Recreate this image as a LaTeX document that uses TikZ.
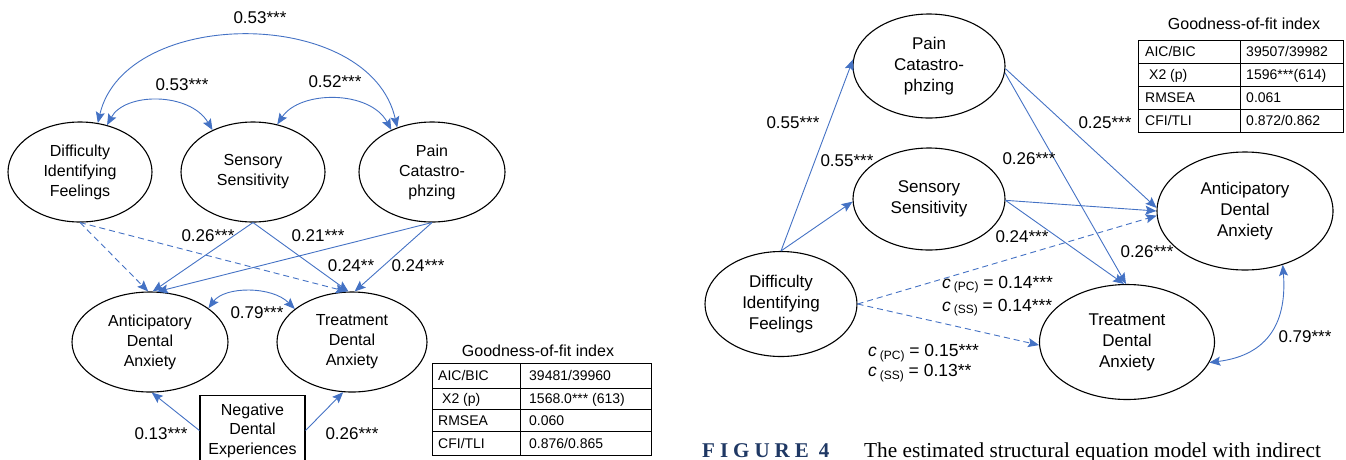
\documentclass[tikz,border=0pt]{standalone}
\usepackage{fontspec}
\setmainfont{Liberation Sans}
\newfontfamily\serifcap{Liberation Serif}
\usetikzlibrary{shapes.geometric,arrows.meta}
\definecolor{lnblue}{HTML}{4472C4}
\definecolor{capblue}{HTML}{1F3864}
\newcommand{\cc}[2]{{\itshape c}\,\raisebox{-2.5pt}{\fontsize{12}{12}\selectfont (#1)} = #2}
\begin{document}
\begin{tikzpicture}[x=1pt,y=-1pt,
  ell/.style={draw=black, line width=1.1pt, ellipse, inner sep=0pt, align=center, font=\fontsize{16}{20}\selectfont},
  ellb/.style={ell, font=\fontsize{17}{21}\selectfont},
  link/.style={draw=lnblue, line width=0.9pt, -{Stealth[length=11pt,width=9pt,inset=2pt]}},
  dlink/.style={link, dash pattern=on 6pt off 4pt},
  both/.style={link, {Stealth[length=11pt,width=9pt,inset=2pt]}-{Stealth[length=11pt,width=9pt,inset=2pt]}},
  coef/.style={font=\fontsize{17}{20}\selectfont, inner sep=0pt},
  cform/.style={font=\fontsize{17.5}{23}\selectfont, inner sep=0pt, align=left, anchor=west},
  tab/.style={draw=black, line width=0.8pt},
  tabtxt/.style={font=\fontsize{14}{16}\selectfont, inner sep=0pt, anchor=base west},
  ttl/.style={font=\fontsize{16}{18}\selectfont, inner sep=0pt}
]
\useasboundingbox (0,0) rectangle (1346,459);

% ================= LEFT DIAGRAM =================
\node[ell, minimum width=144pt, minimum height=100pt] (dif1) at (80,172) {Difficulty\\Identifying\\Feelings};
\node[ell, minimum width=144pt, minimum height=100pt] (ss1) at (253,172) {Sensory\\Sensitivity};
\node[ell, minimum width=146pt, minimum height=100pt] (pc1) at (432,172) {Pain\\Catastro-\\phzing};
\node[ell, minimum width=156pt, minimum height=100pt] (ada1) at (150,342) {Anticipatory\\Dental\\Anxiety};
\node[ell, minimum width=150pt, minimum height=100pt] (tda1) at (352,342) {Treatment\\Dental\\Anxiety};
\node[draw=black, line width=1.1pt, anchor=north, minimum width=105pt, inner xsep=0pt, inner ysep=8pt,
      align=center, font=\fontsize{16}{19.5}\selectfont] (nde) at (252.5,395) {Negative\\Dental\\Experiences};

% covariances
\draw[both] (dif1.70) .. controls (125,6) and (370,6) .. (pc1.128);
\draw[both] (dif1.60) .. controls (125,92) and (190,92) .. (ss1.134);
\draw[both] (ss1.63) .. controls (300,90) and (370,90) .. (pc1.134);
\draw[both] (ada1.30) .. controls (225,286) and (272,286) .. (tda1.150);

% paths
\draw[dlink] (dif1.south) -- (ada1.92);
\draw[dlink] (dif1.south) -- (tda1.96);
\draw[link] (ss1.south) -- (ada1.87);
\draw[link] (ss1.south) -- (tda1.94);
\draw[link] (pc1.south) -- (ada1.82);
\draw[link] (pc1.south) -- (tda1.87);
\draw[link] (nde.west) -- (ada1.-88);
\draw[link] (nde.east) -- (tda1.-100);

% coefficients
\node[coef] (a1) at (260,18) {0.53***};
\node[coef] (a2) at (182,85) {0.53***};
\node[coef] (a3) at (335,82) {0.52***};
\node[coef] (a4) at (208,236) {0.26***};
\node[coef] (a5) at (318,236) {0.21***};
\node[coef] (a6) at (351,266) {0.24**};
\node[coef] (a7) at (418,266) {0.24***};
\node[coef] (a8) at (257,313) {0.79***};
\node[coef] (a9) at (161,434) {0.13***};
\node[coef] (a10) at (352,434) {0.26***};

% fit table (left)
\node[ttl] (t1) at (538,351) {Goodness-of-fit index};
\draw[tab] (432,363) rectangle (651,455);
\draw[tab] (520,363) -- (520,455);
\draw[tab] (432,388) -- (651,388);
\draw[tab] (432,409) -- (651,409);
\draw[tab] (432,431) -- (651,431);
\node[tabtxt] (t1a) at (438,380.5) {AIC/BIC};
\node[tabtxt] (t1b) at (529,380.5) {39481/39960};
\node[tabtxt] (t1c) at (442,403.5) {X2 (p)};
\node[tabtxt] (t1d) at (529,403.5) {1568.0*** (613)};
\node[tabtxt] (t1e) at (438,425) {RMSEA};
\node[tabtxt] (t1f) at (529,425) {0.060};
\node[tabtxt] (t1g) at (438,448) {CFI/TLI};
\node[tabtxt] (t1h) at (529,448) {0.876/0.865};

% ================= RIGHT DIAGRAM =================
\node[ellb, minimum width=152pt, minimum height=104pt] (pc2) at (929,66) {Pain\\Catastro-\\phzing};
\node[ellb, minimum width=152pt, minimum height=102pt] (ss2) at (929,199) {Sensory\\Sensitivity};
\node[ellb, minimum width=152pt, minimum height=105pt] (dif2) at (781,304) {Difficulty\\Identifying\\Feelings};
\node[ellb, minimum width=176pt, minimum height=118pt] (ada2) at (1245,211) {Anticipatory\\Dental\\Anxiety};
\node[ellb, minimum width=175pt, minimum height=115pt] (tda2) at (1127,342) {Treatment\\Dental\\Anxiety};

\draw[link] (dif2.north) -- (pc2.175);
\draw[link] (dif2.north) -- (ss2.182);
\draw[link] (pc2.-2) -- (ada2.178);
\draw[link] (pc2.-5) -- (tda2.91);
\draw[link] (ss2.-1) -- (ada2.180);
\draw[link] (ss2.-1) -- (tda2.93);
\draw[dlink] (dif2.east) -- (ada2.183);
\draw[dlink] (dif2.east) -- (tda2.182);
\draw[both] (tda2.-14) .. controls (1270,355) and (1287,320) .. (ada2.-55);

\node[coef] (b1) at (793,123) {0.55***};
\node[coef] (b2) at (847,161) {0.55***};
\node[coef] (b3) at (1105,123) {0.25***};
\node[coef] (b4) at (1029,159) {0.26***};
\node[coef] (b5) at (1022,237) {0.24***};
\node[coef] (b6) at (1147,252) {0.26***};
\node[coef] (b7) at (1305,337) {0.79***};
\node[cform] (c1) at (942,296) {\cc{PC}{0.14***}\\\cc{SS}{0.14***}};
\node[cform] (c2) at (868,363) {\cc{PC}{0.15***}\\[-3pt]\cc{SS}{0.13**}};

% fit table (right)
\node[ttl] (t2) at (1244,24) {Goodness-of-fit index};
\draw[tab] (1138,40) rectangle (1343,132);
\draw[tab] (1240,40) -- (1240,132);
\draw[tab] (1138,63) -- (1343,63);
\draw[tab] (1138,86) -- (1343,86);
\draw[tab] (1138,109) -- (1343,109);
\node[tabtxt] (t2a) at (1145,56.5) {AIC/BIC};
\node[tabtxt] (t2b) at (1246,56.5) {39507/39982};
\node[tabtxt] (t2c) at (1149,79.5) {X2 (p)};
\node[tabtxt] (t2d) at (1246,79.5) {1596***(614)};
\node[tabtxt] (t2e) at (1145,102.5) {RMSEA};
\node[tabtxt] (t2f) at (1246,102.5) {0.061};
\node[tabtxt] (t2g) at (1145,125.5) {CFI/TLI};
\node[tabtxt] (t2h) at (1246,125.5) {0.872/0.862};

% caption
\node[anchor=base west, inner sep=0pt, text=capblue, font=\serifcap\bfseries\fontsize{21}{21}\selectfont] (cap1) at (702,457)
  {F\kern5pt I\kern5pt G\kern5pt U\kern5pt R\kern5pt E\kern10pt 4};
\node[anchor=base west, inner sep=0pt, font=\serifcap\fontsize{21.3}{21}\selectfont] (cap2) at (864,457)
  {The estimated structural equation model with indirect};
\end{tikzpicture}
\end{document}
